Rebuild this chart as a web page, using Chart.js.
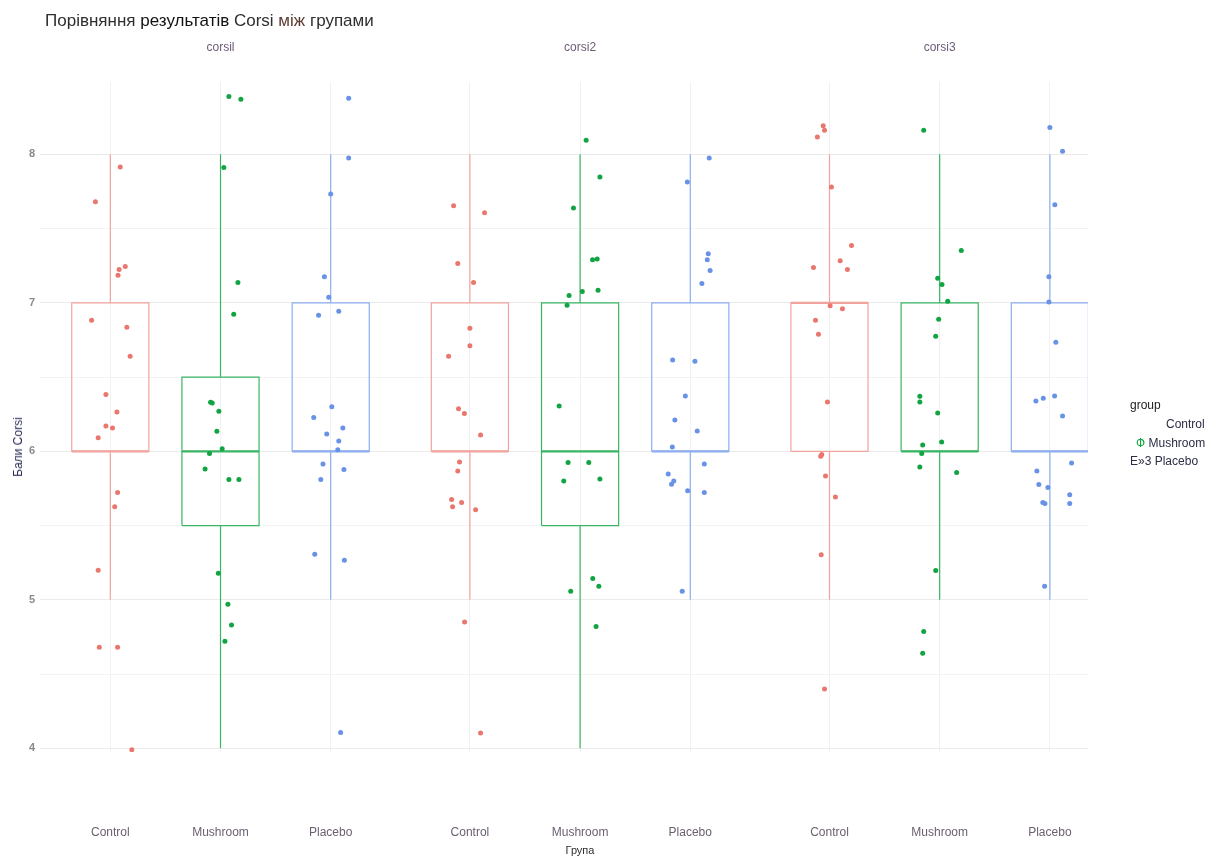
<!DOCTYPE html>
<html lang="uk">
<head>
<meta charset="utf-8">
<title>Порівняння результатів Corsi між групами</title>
<script src="https://cdn.jsdelivr.net/npm/chart.js@4/dist/chart.umd.min.js"></script>
<style>
  html, body { margin: 0; padding: 0; background: #ffffff; }
  #wrap { position: relative; width: 1208px; height: 857px; font-family: "Liberation Sans", Arial, sans-serif; }
  #wrap canvas { position: absolute; left: 0; top: 0; }
  .txt { position: absolute; white-space: nowrap; line-height: 1; }
  #title { left: 45px; top: 12px; font-size: 17px; color: #2e2e2e; }
  #title .dark { color: #111111; }
  #title .brown { color: #5b3b33; }
  #ytitle { left: 18px; top: 447px; font-size: 12px; color: #2a2a58; transform: translate(-50%, -50%) rotate(-90deg); }
  #xtitle { left: 580px; top: 850px; font-size: 11px; color: #2e2e2e; transform: translate(-50%, -50%); }
  #legend .txt { font-size: 12px; color: #2d2d45; }
  #lgTitle { left: 1130px; top: 399px; color: #222 !important; }
</style>
</head>
<body>
<div id="wrap">
  <canvas id="chart" width="1208" height="857"></canvas>
  <div id="title" class="txt">Порівняння <span class="dark">результатів</span> Corsi <span class="brown">між</span> групами</div>
  <div id="ytitle" class="txt">Бали Corsi</div>
  <div id="xtitle" class="txt">Група</div>
  <div id="legend"></div>
</div>
<script>
// ---- data -------------------------------------------------------------
const groups = ['Control', 'Mushroom', 'Placebo'];
const facetNames = ['corsil', 'corsi2', 'corsi3'];
const yTicks = [4, 4.5, 5, 5.5, 6, 6.5, 7, 7.5, 8];

// jittered observations: [horizontal jitter (category units), score]
const corsi1Control = [[0.09,7.915],[-0.135,7.68],[0.136,7.244],[0.08,7.224],[0.07,7.185],[-0.17,6.882],[0.15,6.835],[0.18,6.64],[-0.04,6.382],[0.06,6.265],[-0.04,6.17],[0.02,6.157],[-0.11,6.092],[0.066,5.722],[0.04,5.627],[-0.11,5.199],[-0.10,4.68],[0.066,4.68],[0.195,3.99]];
const corsi1Mushroom = [[0.076,8.39],[0.185,8.37],[0.03,7.912],[0.158,7.136],[0.12,6.923],[-0.09,6.33],[-0.075,6.325],[-0.015,6.27],[-0.033,6.135],[0.015,6.018],[-0.10,5.985],[-0.14,5.88],[0.076,5.81],[0.167,5.81],[-0.02,5.178],[0.067,4.97],[0.10,4.83],[0.04,4.72]];
const corsi1Placebo = [[0.163,8.377],[0.163,7.975],[0,7.733],[-0.057,7.176],[-0.018,7.037],[0.073,6.943],[-0.11,6.916],[0.01,6.30],[-0.154,6.227],[0.11,6.157],[-0.036,6.117],[0.073,6.07],[0.064,6.01],[-0.07,5.915],[0.12,5.877],[-0.09,5.81],[-0.145,5.306],[0.124,5.266],[0.09,4.106]];

const corsi2Control = [[-0.148,7.654],[0.133,7.607],[-0.11,7.264],[0.033,7.136],[0,6.828],[0,6.71],[-0.193,6.64],[-0.103,6.287],[-0.05,6.254],[0.097,6.11],[-0.094,5.928],[-0.11,5.867],[-0.166,5.675],[-0.157,5.627],[-0.075,5.655],[0.052,5.607],[-0.048,4.85],[0.097,4.103]];
const corsi2Mushroom = [[0.055,8.094],[0.18,7.847],[-0.06,7.638],[0.113,7.29],[0.155,7.295],[-0.1,7.05],[0.02,7.077],[0.163,7.084],[-0.118,6.983],[-0.19,6.305],[-0.109,5.924],[0.079,5.924],[-0.148,5.80],[0.18,5.814],[0.115,5.143],[0.17,5.091],[-0.085,5.057],[0.145,4.82]];
const corsi2Placebo = [[0.172,7.975],[-0.027,7.813],[0.163,7.33],[0.154,7.29],[0.18,7.217],[0.105,7.13],[-0.16,6.615],[0.042,6.606],[-0.045,6.372],[-0.14,6.21],[0.063,6.137],[-0.163,6.029],[0.127,5.915],[-0.2,5.847],[-0.15,5.80],[-0.17,5.778],[-0.024,5.735],[0.127,5.722],[-0.073,5.057]];

const corsi3Control = [[-0.057,8.193],[-0.045,8.162],[-0.11,8.117],[0.018,7.78],[0.2,7.386],[0.097,7.284],[-0.145,7.237],[0.163,7.224],[0.006,6.98],[0.118,6.96],[-0.127,6.882],[-0.1,6.788],[-0.018,6.332],[-0.07,5.978],[-0.08,5.966],[-0.036,5.834],[0.054,5.692],[-0.075,5.304],[-0.045,4.40]];
const corsi3Mushroom = [[-0.145,8.162],[0.196,7.352],[-0.018,7.165],[0.021,7.123],[0.073,7.01],[-0.009,6.889],[-0.036,6.774],[-0.18,6.37],[-0.18,6.332],[-0.018,6.258],[0.018,6.063],[-0.154,6.042],[-0.163,5.985],[-0.18,5.895],[0.154,5.857],[-0.036,5.197],[-0.145,4.787],[-0.154,4.64]];
const corsi3Placebo = [[0,8.18],[0.115,8.02],[0.045,7.66],[-0.009,7.176],[-0.009,7.006],[0.054,6.734],[-0.127,6.339],[-0.06,6.357],[0.043,6.373],[0.115,6.238],[0.197,5.921],[-0.118,5.867],[-0.1,5.776],[-0.018,5.756],[0.18,5.708],[-0.064,5.655],[-0.045,5.648],[0.18,5.648],[-0.048,5.091]];

// box statistics per group: [lower whisker, Q1, median, Q3, upper whisker]
const corsi1Box = [[5,6,6,7,8],[4,5.5,6,6.5,8],[5,6,6,7,8]];
const corsi2Box = [[5,6,6,7,8],[4,5.5,6,7,8],[5,6,6,7,8]];
const corsi3Box = [[5,6,7,7,8],[5,6,6,7,8],[5,6,6,7,8]];

// ---- layout & style ---------------------------------------------------
const facetPoints = [
  [corsi1Control, corsi1Mushroom, corsi1Placebo],
  [corsi2Control, corsi2Mushroom, corsi2Placebo],
  [corsi3Control, corsi3Mushroom, corsi3Placebo]
];
const facetBoxes = [corsi1Box, corsi2Box, corsi3Box];
const FACET_STEP = 3.263;   // one facet = 3 categories + panel spacing
const BOX_HALF = 0.35;
const pointColors = ['#e9776e', '#12a443', '#6892e6'];
const lineColors  = ['#f1a49e', '#39b563', '#8cadee'];

const catX = (f, g) => f * FACET_STEP + g;

const datasets = [];
facetPoints.forEach((facet, f) => {
  facet.forEach((pts, g) => {
    const cx = catX(f, g);
    const [lo, q1, med, q3, hi] = facetBoxes[f][g];
    // box outline
    datasets.push({
      type: 'scatter', showLine: true, order: 2,
      data: [{x: cx - BOX_HALF, y: q1}, {x: cx + BOX_HALF, y: q1}, {x: cx + BOX_HALF, y: q3},
             {x: cx - BOX_HALF, y: q3}, {x: cx - BOX_HALF, y: q1}],
      borderColor: lineColors[g], borderWidth: 1.2, pointRadius: 0, fill: false
    });
    // whiskers
    datasets.push({
      type: 'scatter', showLine: true, order: 2, spanGaps: false,
      data: [{x: cx, y: q3}, {x: cx, y: hi}, {x: cx, y: null}, {x: cx, y: lo}, {x: cx, y: q1}],
      borderColor: lineColors[g], borderWidth: 1.2, pointRadius: 0, fill: false
    });
    // median
    datasets.push({
      type: 'scatter', showLine: true, order: 2,
      data: [{x: cx - BOX_HALF, y: med}, {x: cx + BOX_HALF, y: med}],
      borderColor: lineColors[g], borderWidth: 2.2, pointRadius: 0, fill: false
    });
    // jittered points
    datasets.push({
      type: 'scatter', order: 1,
      data: pts.map(([j, v]) => ({x: cx + j, y: v})),
      backgroundColor: pointColors[g], borderColor: pointColors[g],
      borderWidth: 0, pointRadius: 2.5, pointHoverRadius: 2.5
    });
  });
});

const catTicks = [];
facetPoints.forEach((_, f) => groups.forEach((_, g) => catTicks.push(catX(f, g))));
const facetCenters = facetNames.map((_, f) => catX(f, 1));

const X_MIN = -0.638, X_MAX = 8.872;

new Chart(document.getElementById('chart'), {
  type: 'scatter',
  data: { datasets },
  options: {
    responsive: false,
    animation: false,
    layout: { padding: { left: 0, right: 120, top: 0, bottom: 0 } },
    plugins: { legend: { display: false }, tooltip: { enabled: false }, title: { display: false } },
    scales: {
      x: {
        type: 'linear', position: 'bottom', min: X_MIN, max: X_MAX,
        afterBuildTicks: s => { s.ticks = catTicks.map(v => ({ value: v })); },
        afterFit: s => { s.height = 105; },
        ticks: {
          autoSkip: false, maxRotation: 0, padding: 73,
          color: '#6b5f70', font: { family: 'Liberation Sans', size: 12 },
          callback: (v, i) => groups[i % 3]
        },
        grid: { color: '#f1f1f1', lineWidth: 1, drawTicks: false },
        border: { display: false }
      },
      xTop: {
        type: 'linear', position: 'top', min: X_MIN, max: X_MAX,
        afterBuildTicks: s => { s.ticks = facetCenters.map(v => ({ value: v })); },
        afterFit: s => { s.height = 82; },
        ticks: {
          autoSkip: false, maxRotation: 0, padding: 27,
          color: '#6e5a78', font: { family: 'Liberation Sans', size: 12 },
          callback: (v, i) => facetNames[i]
        },
        grid: { display: false, drawTicks: false },
        border: { display: false }
      },
      y: {
        type: 'linear', min: 3.975, max: 8.487,
        afterBuildTicks: s => { s.ticks = yTicks.map(v => ({ value: v })); },
        afterFit: s => { s.width = 40; },
        ticks: {
          padding: 5, color: '#8a8a8a',
          font: { family: 'Liberation Sans', size: 11, weight: 'bold' },
          callback: v => Number.isInteger(v) ? String(v) : ''
        },
        grid: {
          drawTicks: false, lineWidth: 1,
          color: c => Number.isInteger(c.tick.value) ? '#ebebeb' : '#f3f3f3'
        },
        border: { display: false }
      }
    }
  }
});

// legend
const legend = document.getElementById('legend');
const legendItems = [
  { html: 'group', id: 'lgTitle', left: 1130, top: 399 },
  { html: 'Control', left: 1166, top: 418 },
  { html: '<span style="color:#12a443">Ф</span> Mushroom', left: 1136, top: 437 },
  { html: 'E»3 Placebo', left: 1130, top: 455 }
];
legendItems.forEach(it => {
  const d = document.createElement('div');
  d.className = 'txt';
  if (it.id) d.id = it.id;
  d.style.left = it.left + 'px';
  d.style.top = it.top + 'px';
  d.innerHTML = it.html;
  legend.appendChild(d);
});
</script>
</body>
</html>
